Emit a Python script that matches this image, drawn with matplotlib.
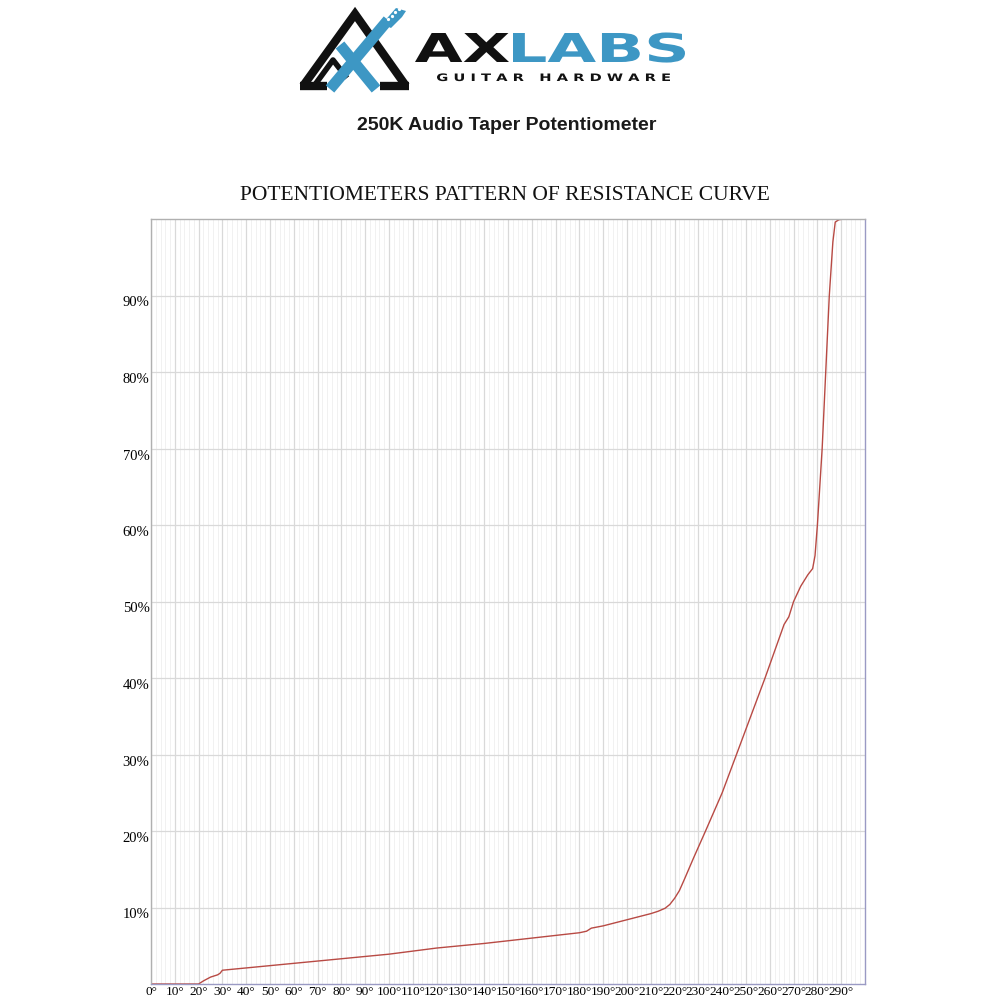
import matplotlib
matplotlib.use("Agg")
import matplotlib.pyplot as plt
from matplotlib.textpath import TextPath
from matplotlib.patches import PathPatch, Polygon
from matplotlib.font_manager import FontProperties
from matplotlib.transforms import Affine2D, ScaledTranslation
import numpy as np

# ---- data ----
angle_deg = [0, 20, 22, 25, 28, 29, 30, 40, 60, 80, 100, 120, 140, 160, 180,
             183, 185, 190, 200, 210, 213, 216, 218, 220, 222, 224, 228, 233,
             240, 246, 252, 258, 262, 266, 268, 270, 273, 276, 278, 279, 280,
             282, 283.5, 285, 286.5, 287.5, 289, 291, 300]
resistance_pct = [0, 0, 0.4, 0.9, 1.2, 1.4, 1.8, 2.1, 2.7, 3.3, 3.9, 4.7, 5.3,
                  6.0, 6.7, 6.9, 7.3, 7.6, 8.4, 9.2, 9.5, 9.9, 10.4, 11.2, 12.2,
                  13.6, 16.5, 20, 25, 30, 35, 40, 43.5, 47, 48, 50, 52, 53.5,
                  54.3, 56, 60, 70, 80, 90, 97, 99.6, 99.9, 100, 100]
x_ticks = list(range(0, 300, 10))
x_tick_labels = [f"{v}°" for v in x_ticks]
y_ticks = list(range(10, 100, 10))
y_tick_labels = [f"{v}%" for v in y_ticks]

title = "POTENTIOMETERS PATTERN OF RESISTANCE CURVE"
subtitle = "250K Audio Taper Potentiometer"

fig = plt.figure(figsize=(10, 10), dpi=100)
fig.patch.set_facecolor("white")

ax = fig.add_axes([0.151, 0.016, 0.714, 0.765])
ax.set_xlim(0, 300)
ax.set_ylim(0, 100)
ax.set_xticks(x_ticks)
ax.set_xticklabels(x_tick_labels)
ax.set_xticks(np.arange(0, 301, 2), minor=True)
ax.set_yticks(y_ticks)
ax.set_yticklabels(y_tick_labels)
ax.grid(True, which="major", axis="both", color="#d9d9d9", lw=0.9)
ax.grid(True, which="minor", axis="x", color="#efefef", lw=0.6)
ax.set_axisbelow(True)
ax.tick_params(which="both", length=0)
ax.tick_params(axis="x", pad=1.5, labelsize=9.6)
ax.tick_params(axis="y", pad=1, labelsize=10.5)
for lab in ax.get_xticklabels() + ax.get_yticklabels():
    lab.set_fontfamily("Liberation Serif")
for lab in ax.get_yticklabels():
    lab.set_transform(lab.get_transform() + ScaledTranslation(0, -6/100, fig.dpi_scale_trans))
for s in ["left", "top"]:
    ax.spines[s].set_color("#b0b0b0")
for s in ["right", "bottom"]:
    ax.spines[s].set_color("#9a9ac4")
for s in ax.spines.values():
    s.set_linewidth(1.0)

ax.plot(angle_deg, resistance_pct, color="#b84a44", lw=1.0)

fig.text(0.505, 0.804, title, ha="center", va="center",
         fontfamily="Liberation Serif", fontsize=15.5, color="#111111")
fig.text(0.507, 0.874, subtitle, ha="center", va="center",
         fontfamily="Liberation Sans", fontweight="bold", fontsize=14, color="#1a1a1a")

# ---- logo overlay (pixel coordinates, y down) ----
ov = fig.add_axes([0, 0, 1, 1], zorder=5)
ov.set_xlim(0, 1000)
ov.set_ylim(1000, 0)
ov.axis("off")

blue = "#3d97c4"
black = "#111111"

def place_text(s, x0, x1, baseline, cap, color, weight="bold"):
    fp = FontProperties(family="DejaVu Sans", weight=weight)
    tp = TextPath((0, 0), s, size=1, prop=fp)
    ext = tp.get_extents()
    capref = TextPath((0, 0), "H", size=1, prop=fp).get_extents().height
    sx = (x1 - x0) / ext.width
    sy = cap / capref
    tr = Affine2D().translate(-ext.x0, 0).scale(sx, -sy).translate(x0, baseline)
    p = tr.transform_path(tp)
    ov.add_patch(PathPatch(p, fc=color, ec="none"))

place_text("AX", 415, 509, 62, 29, black)
place_text("LABS", 513, 685, 62, 29, blue)
place_text("G U I T A R   H A R D W A R E", 437, 670, 81, 7.5, black)

# triangle mark
ov.plot([303, 355, 406], [86, 14, 86], color=black, lw=6, solid_joinstyle="miter",
        solid_capstyle="butt")
ov.plot([300, 327], [86, 86], color=black, lw=6, solid_capstyle="butt")
ov.plot([380, 409], [86, 86], color=black, lw=6, solid_capstyle="butt")
ov.plot([314, 333, 347], [86, 60, 78], color=black, lw=4, solid_capstyle="butt")
# blue X / guitar neck
ov.plot([330, 388], [89, 20], color=blue, lw=8, solid_capstyle="butt")
ov.plot([340, 376], [45, 89], color=blue, lw=8, solid_capstyle="butt")
ov.add_patch(Polygon([[382, 24], [396, 8], [406, 11], [402, 17], [391, 28]],
                     closed=True, fc=blue, ec="none"))
for i in range(4):
    ov.plot(388 + i * 3.5, 19 - i * 3.5, "o", color="white", ms=1.3)

fig.savefig("out.png", dpi=100, facecolor="white")
